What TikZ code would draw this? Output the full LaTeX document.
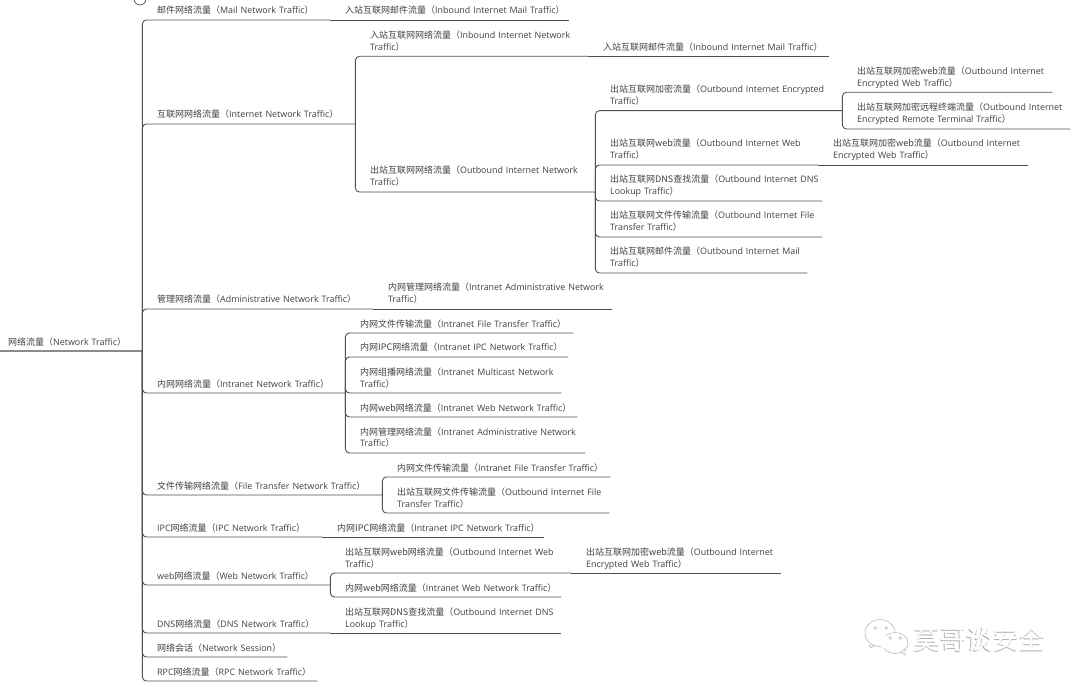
\documentclass[tikz,border=0pt]{standalone}
\usepackage{fontspec}
\setmainfont[Scale=0.99]{Open Sans}
\newfontfamily\cjk{Noto Sans CJK SC}
\newcommand{\zh}[1]{{\cjk #1}}
\definecolor{linegray}{HTML}{505050}
\definecolor{textgray}{HTML}{404040}
\tikzset{
    topic/.style={anchor=south west,inner xsep=0pt,inner ysep=3.5pt,text width=#1,align=left,
        text=textgray,font=\fontsize{9}{12}\selectfont,execute at end node={\rule[-2.3pt]{0pt}{1pt}}},
    link/.style={draw=linegray,line width=0.9pt,rounded corners=4pt},
    rootlink/.style={draw=black!45,line width=1.5pt},
    mark text/.style={font=\cjk\fontsize{26.3}{26.3}\selectfont,inner sep=0pt,anchor=west}
}
\begin{document}
\begin{tikzpicture}[x=1pt,y=-1pt]
    \useasboundingbox (0,0) rectangle (1080,687);
    \begin{scope}
        \clip (0,0) rectangle (1080,687);
        \draw [linegray,line width=0.7pt] (140,-1) circle (6);
    \end{scope}
    \coordinate (start) at (0,351);
    \node[topic=134] (root) at (8,351) {\zh{网络流量（}Network Traffic\zh{）}};
    % first level
    \node[topic=173] (mail) at (157,20) {\zh{邮件网络流量（}Mail Network Traffic\zh{）}};
    \node[topic=198] (internet) at (157,124) {\zh{互联网网络流量（}Internet Network Traffic\zh{）}};
    \node[topic=216] (admin) at (157,309) {\zh{管理网络流量（}Administrative Network Traffic\zh{）}};
    \node[topic=188] (intranet) at (157,393) {\zh{内网网络流量（}Intranet Network Traffic\zh{）}};
    \node[topic=225] (file) at (157,495) {\zh{文件传输网络流量（}File Transfer Network Traffic\zh{）}};
    \node[topic=165] (ipc) at (157,537) {IPC\zh{网络流量（}IPC Network Traffic\zh{）}};
    \node[topic=173] (web) at (157,585) {web\zh{网络流量（}Web Network Traffic\zh{）}};
    \node[topic=173] (dns) at (157,633) {DNS\zh{网络流量（}DNS Network Traffic\zh{）}};
    \node[topic=130] (session) at (157,657) {\zh{网络会话（}Network Session\zh{）}};
    \node[topic=160] (rpc) at (157,681) {RPC\zh{网络流量（}RPC Network Traffic\zh{）}};
    % single children
    \node[topic=224] (mailin) at (345,20) {\zh{入站互联网邮件流量（}Inbound Internet Mail Traffic\zh{）}};
    \node[topic=224] (adminin) at (388,309) {\zh{内网管理网络流量（}Intranet Administrative Network\\Traffic\zh{）}};
    \node[topic=207] (ipcin) at (337,537) {\zh{内网IPC网络流量（}Intranet IPC Network Traffic\zh{）}};
    \node[topic=216] (dnsout) at (345,633) {\zh{出站互联网DNS查找流量（}Outbound Internet DNS\\Lookup Traffic\zh{）}};
    % internet
    \node[topic=218] (netin) at (370,56.3) {\zh{入站互联网网络流量（}Inbound Internet Network\\Traffic\zh{）}};
    \node[topic=225] (netout) at (370,192) {\zh{出站互联网网络流量（}Outbound Internet Network\\Traffic\zh{）}};
    \node[topic=226] (netinmail) at (603,56.3) {\zh{入站互联网邮件流量（}Inbound Internet Mail Traffic\zh{）}};
    \node[topic=232] (outenc) at (610,110.7) {\zh{出站互联网加密流量（}Outbound Internet Encrypted\\Traffic\zh{）}};
    \node[topic=208] (outweb) at (610,165) {\zh{出站互联网web流量（}Outbound Internet Web\\Traffic\zh{）}};
    \node[topic=212] (outdns) at (610,201) {\zh{出站互联网DNS查找流量（}Outbound Internet DNS\\Lookup Traffic\zh{）}};
    \node[topic=212] (outfile) at (610,237) {\zh{出站互联网文件传输流量（}Outbound Internet File\\Transfer Traffic\zh{）}};
    \node[topic=197] (outmail) at (610,273) {\zh{出站互联网邮件流量（}Outbound Internet Mail\\Traffic\zh{）}};
    \node[topic=195] (encweb) at (857,92.3) {\zh{出站互联网加密web流量（}Outbound Internet\\Encrypted Web Traffic\zh{）}};
    \node[topic=213] (encterm) at (857,129) {\zh{出站互联网加密远程终端流量（}Outbound Internet\\Encrypted Remote Terminal Traffic\zh{）}};
    \node[topic=195] (outwebenc) at (833,165) {\zh{出站互联网加密web流量（}Outbound Internet\\Encrypted Web Traffic\zh{）}};
    % intranet
    \node[topic=213] (infile) at (360,333) {\zh{内网文件传输流量（}Intranet File Transfer Traffic\zh{）}};
    \node[topic=208] (inipc) at (360,357) {\zh{内网IPC网络流量（}Intranet IPC Network Traffic\zh{）}};
    \node[topic=201] (inmulti) at (360,393) {\zh{内网组播网络流量（}Intranet Multicast Network\\Traffic\zh{）}};
    \node[topic=217] (inweb) at (360,417) {\zh{内网web网络流量（}Intranet Web Network Traffic\zh{）}};
    \node[topic=225] (inadmin) at (360,453) {\zh{内网管理网络流量（}Intranet Administrative Network\\Traffic\zh{）}};
    % file transfer
    \node[topic=213] (fileint) at (397,477) {\zh{内网文件传输流量（}Intranet File Transfer Traffic\zh{）}};
    \node[topic=212] (fileout) at (397,513) {\zh{出站互联网文件传输流量（}Outbound Internet File\\Transfer Traffic\zh{）}};
    % web
    \node[topic=226] (webout) at (345,573) {\zh{出站互联网web网络流量（}Outbound Internet Web\\Traffic\zh{）}};
    \node[topic=216] (webin) at (345,597) {\zh{内网web网络流量（}Intranet Web Network Traffic\zh{）}};
    \node[topic=195] (weboutenc) at (586,573) {\zh{出站互联网加密web流量（}Outbound Internet\\Encrypted Web Traffic\zh{）}};
    % connectors
    \draw[rootlink] (start) -- (root.south east);
    \foreach \parentname/\childname in {root/mail,root/internet,root/admin,root/intranet,root/file,root/ipc,root/web,root/dns,root/session,root/rpc,
        internet/netin,internet/netout,
        netout/outenc,netout/outweb,netout/outdns,netout/outfile,netout/outmail,
        outenc/encweb,outenc/encterm,
        intranet/infile,intranet/inipc,intranet/inmulti,intranet/inweb,intranet/inadmin,
        file/fileint,file/fileout,web/webout,web/webin}
        \draw[link] (\parentname.south east) |- (\childname.south east);
    % straight runs, one child only
    \foreach \parentname/\childname in {mail/mailin,admin/adminin,ipc/ipcin,dns/dnsout,netin/netinmail,outweb/outwebenc,webout/weboutenc}
        \draw[link] (\parentname.south east) -- (\childname.south east);
    % watermark
    \begin{scope}[draw=black!30,line width=0.5pt,fill=white]
        \filldraw (880,633) ellipse (15 and 13.5);
        \filldraw (869,645) -- (871,648) -- (876,645) -- cycle;
        \filldraw (895,643) ellipse (13 and 10.5);
        \filldraw (901,652) -- (905,655) -- (905,649) -- cycle;
        \fill[white] (889,642) ellipse (10 and 7);
        \draw (875,628) circle (1.4);
        \draw (886,628) circle (1.4);
        \draw (890,638) circle (1.4);
        \draw (900,638) circle (1.4);
    \end{scope}
    \node[mark text,text=black!30] (brandshade) at (913,640) {莫哥谈安全};
    \node[mark text,text=white] (brand) at (913.5,639.5) {莫哥谈安全};
\end{tikzpicture}
\end{document}
